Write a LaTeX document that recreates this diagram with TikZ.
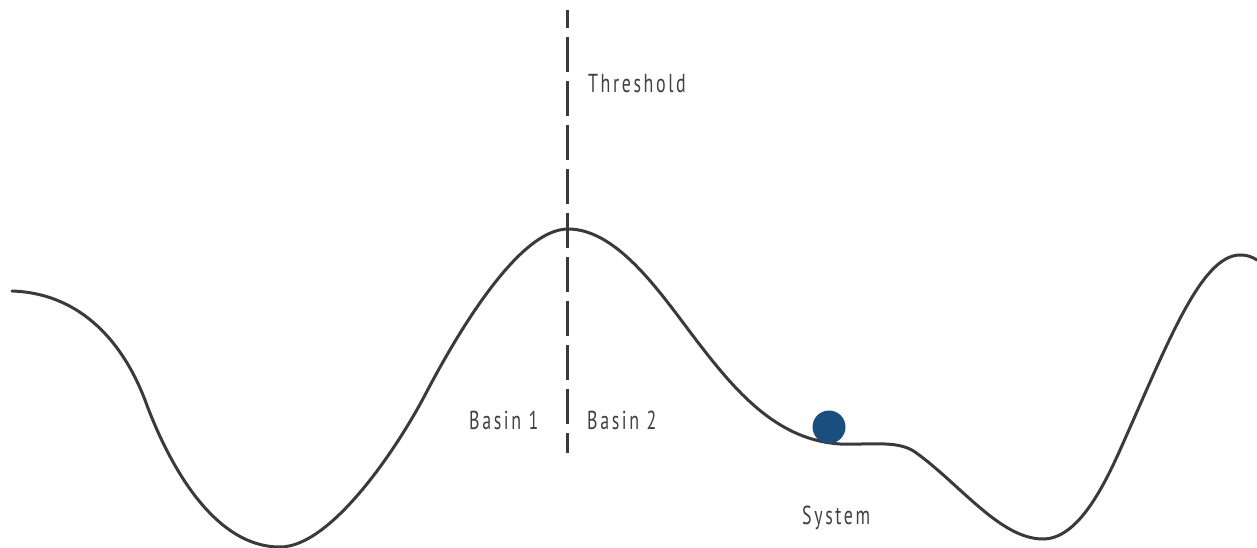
\documentclass[tikz,border=0pt]{standalone}
\usepackage{fontspec}
\newfontfamily\lblfont[FakeStretch=0.69,LetterSpace=10]{PT Sans}
\definecolor{curvegray}{HTML}{3A3A3A}
\definecolor{textgray}{HTML}{404040}
\definecolor{ballblue}{HTML}{1B4D7E}
\tikzset{
  landscape/.style={draw=curvegray, line width=3pt, line cap=round},
  threshline/.style={draw=curvegray, line width=3.2pt, dash pattern=on 35pt off 9pt, dash phase=17pt},
  lbl/.style={text=textgray, font=\lblfont\fontsize{26}{30}\selectfont, inner sep=0pt, anchor=base west},
  ballstyle/.style={circle, fill=ballblue, minimum size=33pt, inner sep=0pt}
}
\begin{document}
\begin{tikzpicture}[x=1pt,y=-1pt]
\useasboundingbox (0,0) rectangle (1257,548);
% threshold line
\coordinate (ttop) at (567.5,10);
\coordinate (tbot) at (567.5,453);
\draw[threshline] (ttop) -- (tbot);
% landscape curve
\draw[landscape] (12,291)
  .. controls (75,293) and (120,335) .. (145,400)
  .. controls (165,455) and (210,547) .. (280,547)
  .. controls (330,547) and (395,452) .. (425,395)
  .. controls (460,328) and (520,229) .. (568,229)
  .. controls (620,229) and (665,300) .. (700,345)
  .. controls (740,397) and (780,440) .. (840,444)
  .. controls (870,445) and (898,440) .. (915,452)
  .. controls (960,484) and (1000,539) .. (1043,539)
  .. controls (1075,539) and (1100,495) .. (1120,450)
  .. controls (1165,350) and (1200,255) .. (1240,255)
  .. controls (1248,255) and (1252,257) .. (1257,260);
% ball
\node[ballstyle] (ball) at (829,427) {};
% labels
\node[lbl] (thr) at (588,93) {Threshold};
\node[lbl] (b1) at (469,429) {Basin 1};
\node[lbl] (b2) at (587,429) {Basin 2};
\node[lbl] (sys) at (802,524) {System};
\end{tikzpicture}
\end{document}
